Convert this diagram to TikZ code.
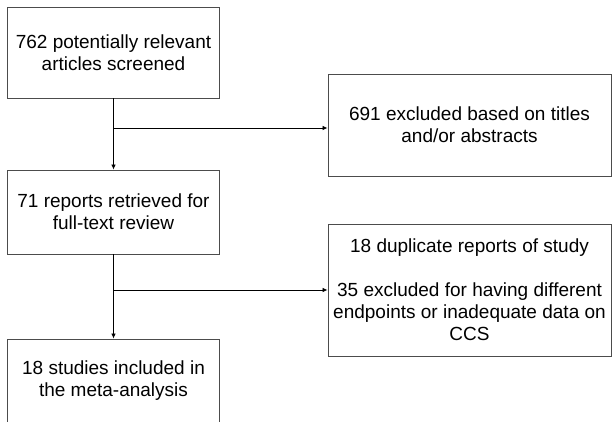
\documentclass[tikz,border=0pt]{standalone}
\usepackage{fontspec}
\setmainfont{Liberation Sans}
\usetikzlibrary{positioning,arrows.meta}

\begin{document}
\begin{tikzpicture}[x=1pt,y=1pt,
    flowbox/.style={
      draw=black!70,line width=0.9pt,align=center,inner sep=0pt,
      font=\fontsize{19}{22}\selectfont
    },
    leftbox/.style={
      flowbox,minimum width=212pt,minimum height=#1
    },
    rightbox/.style={
      flowbox,minimum width=283pt,minimum height=#1
    },
    flowarrow/.style={
      draw=black,line width=0.8pt,-{Latex[length=5pt,width=4.5pt]}
    }]
      \useasboundingbox (0,0) rectangle (612,-422);
      \clip (0,0) rectangle (612,-422);

      \node[leftbox=91pt] (screened) at (113.5,-52.5) {762 potentially relevant\\articles screened};
      \node[rightbox=102pt] (excluded) at (469.5,-125) {691 excluded based on titles\\and/or abstracts};
      \node[leftbox=84pt] (fulltext) at (113.5,-212) {71 reports retrieved for\\full-text review};
      \node[rightbox=132pt] (removed) at (469.5,-290) {18 duplicate reports of study\\[22pt]35 excluded for having different\\endpoints or inadequate data on\\CCS};
      \node[leftbox=84pt] (included) at (113.5,-381) {18 studies included in\\the meta-analysis};

      \coordinate (branchA) at (113.5,-128);
      \coordinate (branchB) at (113.5,-290);

      \draw[flowarrow] (screened) -- (fulltext);
      \draw[flowarrow] (branchA) -- (excluded.west |- branchA);
      \draw[flowarrow] (fulltext) -- (included);
      \draw[flowarrow] (branchB) -- (removed.west |- branchB);
  \end{tikzpicture}
\end{document}
